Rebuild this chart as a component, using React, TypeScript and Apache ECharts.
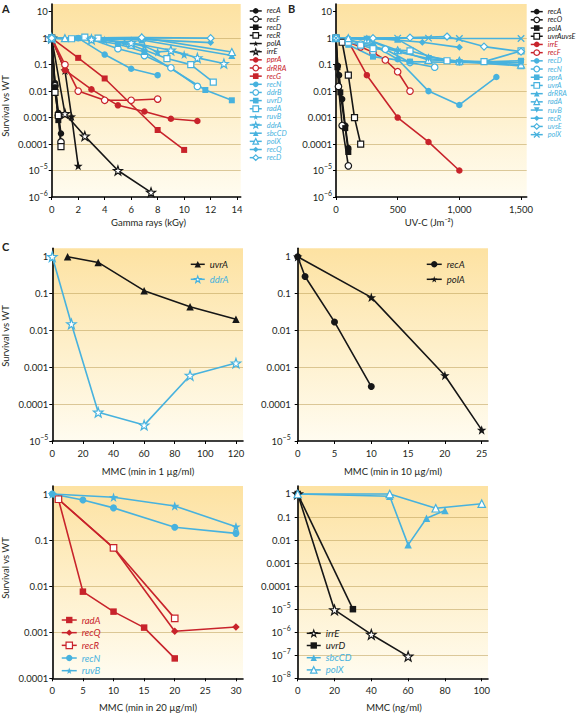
import React, { useEffect, useRef } from 'react';
import * as echarts from 'echarts';

const BLACK = '#161616';
const RED = '#c8232b';
const CYAN = '#47b2de';
const FONT = 'Lato, "Noto Sans", sans-serif';
const TEXT = '#231f20';

// ---------- Panel A: gamma rays (kGy) ----------
const A_recA = [[0, 1], [0.25, 0.02], [0.5, 0.0015], [0.7, 0.00025]];
const A_recF = [[0, 1], [0.25, 0.016], [0.5, 0.0012], [0.7, 0.00012]];
const A_recD = [[0, 1], [0.25, 0.014], [0.5, 0.0008]];
const A_recR = [[0, 1], [0.25, 0.009], [0.5, 0.0012], [0.7, 0.00008]];
const A_polA = [[0, 1], [1, 0.06], [1.5, 0.0011], [2, 0.000015]];
const A_irrE = [[0, 1], [1, 0.0014], [2.5, 0.0002], [5, 0.00001], [7.5, 0.0000015]];
const A_pprA = [[0, 1], [1, 0.062], [3, 0.0116], [5, 0.0029], [7, 0.0017], [9, 0.0009], [11, 0.00074]];
const A_drRRA = [[0, 1], [1, 0.1], [2, 0.01], [4, 0.0045], [6, 0.0045], [8, 0.005]];
const A_recG = [[0, 1], [2, 0.18], [4, 0.03], [8, 0.00034], [10, 0.00006]];
const A_recN = [[0, 1], [2, 1], [4, 0.24], [6, 0.07], [8, 0.04]];
const A_ddrB = [[0, 1], [3, 0.9], [5, 0.4], [7, 0.22], [9, 0.076], [11, 0.015]];
const A_uvrD = [[0, 1], [2, 1], [5, 0.6], [7, 0.3], [11.6, 0.011], [13.6, 0.0045]];
const A_radA = [[0, 1], [1.5, 0.95], [2.5, 1.1], [3.5, 1], [6, 0.55], [8.7, 0.17], [10.5, 0.1], [12.2, 0.022]];
const A_ruvB = [[0, 1], [3, 0.95], [4, 0.85], [5.5, 0.7], [7, 0.5], [8, 0.3], [9, 0.33], [10, 0.24]];
const A_ddrA = [[0, 1], [3, 0.9], [6, 0.67], [9, 0.35], [11, 0.18], [13, 0.11]];
const A_sbcCD = [[0, 1], [1, 1], [6.8, 0.85], [13.6, 0.22]];
const A_polX = [[0, 1], [1, 1], [6.8, 1.05], [13.6, 0.3]];
const A_recQ = [[0, 1], [6.8, 0.9], [12, 0.68]];
const A_recDd = [[0, 1], [6.8, 1.05], [12, 1]];

// ---------- Panel B: UV-C (J/m2) ----------
const B_recA = [[0, 1], [15, 0.09], [25, 0.04], [50, 0.005], [75, 0.0005], [100, 0.00007]];
const B_recO = [[0, 1], [20, 0.015], [50, 0.0005], [100, 0.000015]];
const B_polA = [[0, 1], [12, 0.08], [35, 0.009], [75, 0.0004], [100, 0.00005]];
const B_uvrAuvsE = [[0, 1], [50, 0.7], [100, 0.04], [150, 0.001], [200, 0.0001]];
const B_irrE = [[0, 1], [100, 0.75], [250, 0.04], [500, 0.001], [750, 0.00012], [1000, 0.00001]];
const B_recF = [[0, 1], [100, 0.7], [200, 0.47], [300, 0.29], [400, 0.15], [500, 0.054], [600, 0.01]];
const B_recD = [[0, 1], [100, 0.85], [300, 0.55], [500, 0.16], [750, 0.01], [1000, 0.003], [1300, 0.034]];
const B_recN = [[0, 1], [100, 0.9], [200, 0.6], [400, 0.38], [600, 0.12], [800, 0.08]];
const B_pprA = [[0, 1], [100, 0.56], [300, 0.2], [600, 0.13], [1000, 0.12], [1500, 0.14]];
const B_uvrA = [[0, 1], [100, 0.7], [200, 0.55], [300, 0.4], [600, 0.33], [900, 0.14], [1200, 0.13], [1500, 0.33]];
const B_drRRA = [[0, 1], [100, 1], [250, 0.95], [500, 0.9], [750, 0.2], [1000, 0.13], [1500, 0.09]];
const B_radA = [[0, 1], [100, 1], [250, 0.9], [500, 0.35], [750, 0.15], [1000, 0.14], [1500, 0.1]];
const B_ruvB = [[0, 1], [250, 0.9], [500, 0.3], [750, 0.17], [1000, 0.12], [1500, 0.12]];
const B_recR = [[0, 1], [300, 1], [700, 0.7], [1000, 0.45]];
const B_uvsE = [[0, 1], [300, 1], [600, 1.05], [900, 1.15], [1200, 0.48], [1500, 0.31]];
const B_polX = [[0, 1], [500, 1], [750, 1], [1000, 0.97], [1500, 0.97]];

// ---------- Panel C ----------
const C1_uvrA = [[10, 1], [30, 0.7], [60, 0.12], [90, 0.044], [120, 0.02]];
const C1_ddrA = [[0, 1], [12.5, 0.015], [30, 0.00006], [60, 0.000027], [90, 0.0006], [120, 0.0013]];
const C2_recA = [[0, 1], [1, 0.29], [5, 0.017], [10, 0.0003]];
const C2_polA = [[0, 1], [10, 0.079], [20, 0.0006], [25, 0.00002]];
const C3_radA = [[1, 0.77], [5, 0.0076], [10, 0.0028], [15, 0.00126], [20, 0.00027]];
const C3_recQ = [[1, 0.77], [10, 0.068], [20, 0.00105], [30, 0.0013]];
const C3_recR = [[1, 0.77], [10, 0.068], [20, 0.002]];
const C3_recN = [[0, 1], [5, 0.74], [10, 0.5], [20, 0.19], [30, 0.14]];
const C3_ruvB = [[0, 1], [10, 0.85], [20, 0.55], [30, 0.195]];
const C4_irrE = [[0, 1], [20, 0.0000093], [40, 0.0000008], [60, 0.00000009]];
const C4_uvrD = [[0, 1], [30, 0.00001]];
const C4_sbcCD = [[0, 1], [50, 0.8], [60, 0.0062], [70, 0.088], [80, 0.19]];
const C4_polX = [[0, 1], [50, 1], [75, 0.24], [100, 0.38]];

// tick values
const X_A = [0, 2, 4, 6, 8, 10, 12, 14];
const X_B = [0, 500, 1000, 1500];
const X_C1 = [0, 20, 40, 60, 80, 100, 120];
const X_C2 = [0, 5, 10, 15, 20, 25];
const X_C3 = [0, 5, 10, 15, 20, 25, 30];
const X_C4 = [0, 20, 40, 60, 80, 100];

const SYM: Record<string, string> = {
  circle: 'circle',
  rect: 'rect',
  triangle: 'triangle',
  diamond: 'diamond',
  star: 'path://M0,-5L1.18,-1.62L4.76,-1.55L1.9,0.62L2.94,4.05L0,2L-2.94,4.05L-1.9,0.62L-4.76,-1.55L-1.18,-1.62Z',
  cross: 'path://M-4,-4L4,4M4,-4L-4,4',
};

type Spec = [string, string, string, boolean, number[][], number?];

const SPEC_A: Spec[] = [
  ['recA', BLACK, 'circle', true, A_recA],
  ['recF', BLACK, 'circle', false, A_recF],
  ['recD', BLACK, 'rect', true, A_recD],
  ['recR', BLACK, 'rect', false, A_recR],
  ['polA', BLACK, 'star', true, A_polA],
  ['irrE', BLACK, 'star', false, A_irrE],
  ['pprA', RED, 'circle', true, A_pprA],
  ['drRRA', RED, 'circle', false, A_drRRA],
  ['recG', RED, 'rect', true, A_recG],
  ['recN', CYAN, 'circle', true, A_recN],
  ['ddrB', CYAN, 'circle', false, A_ddrB],
  ['uvrD', CYAN, 'rect', true, A_uvrD],
  ['radA', CYAN, 'rect', false, A_radA],
  ['ruvB', CYAN, 'star', true, A_ruvB],
  ['ddrA', CYAN, 'star', false, A_ddrA],
  ['sbcCD', CYAN, 'triangle', true, A_sbcCD],
  ['polX', CYAN, 'triangle', false, A_polX],
  ['recQ', CYAN, 'diamond', true, A_recQ],
  ['recD ', CYAN, 'diamond', false, A_recDd],
];

const SPEC_B: Spec[] = [
  ['recA', BLACK, 'circle', true, B_recA],
  ['recO', BLACK, 'circle', false, B_recO],
  ['polA', BLACK, 'rect', true, B_polA],
  ['uvrAuvsE', BLACK, 'rect', false, B_uvrAuvsE],
  ['irrE', RED, 'circle', true, B_irrE],
  ['recF', RED, 'circle', false, B_recF],
  ['recD', CYAN, 'circle', true, B_recD],
  ['recN', CYAN, 'circle', false, B_recN],
  ['pprA', CYAN, 'rect', true, B_pprA],
  ['uvrA', CYAN, 'rect', false, B_uvrA],
  ['drRRA', CYAN, 'triangle', true, B_drRRA],
  ['radA', CYAN, 'triangle', false, B_radA],
  ['ruvB', CYAN, 'triangle', true, B_ruvB, 180],
  ['recR', CYAN, 'diamond', true, B_recR],
  ['uvsE', CYAN, 'diamond', false, B_uvsE],
  ['polX', CYAN, 'cross', true, B_polX],
];

const SPEC_C1: Spec[] = [
  ['uvrA', BLACK, 'triangle', true, C1_uvrA],
  ['ddrA', CYAN, 'star', false, C1_ddrA],
];
const SPEC_C2: Spec[] = [
  ['recA', BLACK, 'circle', true, C2_recA],
  ['polA', BLACK, 'star', true, C2_polA],
];
const SPEC_C3: Spec[] = [
  ['radA', RED, 'rect', true, C3_radA],
  ['recQ', RED, 'diamond', true, C3_recQ],
  ['recR', RED, 'rect', false, C3_recR],
  ['recN', CYAN, 'circle', true, C3_recN],
  ['ruvB', CYAN, 'star', true, C3_ruvB],
];
const SPEC_C4: Spec[] = [
  ['irrE', BLACK, 'star', false, C4_irrE],
  ['uvrD', BLACK, 'rect', true, C4_uvrD],
  ['sbcCD', CYAN, 'triangle', true, C4_sbcCD],
  ['polX', CYAN, 'triangle', false, C4_polX],
];

function symStyle(color: string, symbol: string, filled: boolean) {
  return {
    color: filled ? color : '#ffffff',
    borderColor: color,
    borderWidth: filled ? (symbol === 'cross' ? 1.3 : 0) : 1.2,
    opacity: 1,
  };
}

function makeSeries(panel: string, idx: number, specs: Spec[], size: number) {
  return specs.map(([name, color, symbol, filled, data, rot]) => {
    let s = size;
    if (symbol === 'star') s = size + 2.5;
    else if (symbol === 'rect') s = size - 0.5;
    else if (symbol === 'diamond' || symbol === 'triangle') s = size + 0.5;
    return {
      name: panel + '|' + name,
      type: 'line',
      xAxisIndex: idx,
      yAxisIndex: idx,
      data: data.map(([x, y]) => [x, Math.log10(y)]),
      symbol: SYM[symbol],
      symbolSize: s,
      symbolRotate: rot || 0,
      showSymbol: true,
      clip: false,
      silent: true,
      lineStyle: { color, width: 1.6 },
      itemStyle: symStyle(color, symbol, filled),
      emphasis: { disabled: true },
    };
  });
}

function makeLegend(panel: string, specs: Spec[], left: number, top: number, fontSize: number, itemWidth: number, itemHeight: number, lineHeight: number, gap: number) {
  return {
    show: true,
    orient: 'vertical',
    left,
    top,
    padding: 0,
    itemGap: gap,
    itemWidth,
    itemHeight,
    selectedMode: false,
    data: specs.map((s) => ({
      name: panel + '|' + s[0],
      textStyle: { color: s[1] },
      itemStyle: symStyle(s[1], s[2], s[3]),
      lineStyle: { color: s[1], width: 1.5 },
    })),
    formatter: (n: string) => n.split('|')[1].trim(),
    textStyle: { fontSize, fontStyle: 'italic', fontFamily: FONT, lineHeight },
  };
}

const supRich = {
  b: { fontSize: 9.5, lineHeight: 16, fontFamily: FONT, color: TEXT },
  sup: { fontSize: 7, lineHeight: 8, verticalAlign: 'top', fontFamily: FONT, color: TEXT },
};

function yFmt(v: number) {
  const e = Math.round(v);
  if (Math.abs(v - e) > 1e-6) return '';
  if (e >= 1) return String(Math.pow(10, e));
  if (e === 0) return '1';
  if (e >= -4) return Math.pow(10, e).toFixed(-e);
  return '{b|10}{sup|\u2212' + -e + '}';
}

function range(a: number, b: number) {
  const r: number[] = [];
  for (let i = a; i <= b; i++) r.push(i);
  return r;
}

function yAxis(idx: number, min: number, max: number, margin: number) {
  const ticks = range(min, Math.floor(max));
  return {
    type: 'value',
    gridIndex: idx,
    min,
    max,
    interval: 1,
    axisLine: { show: true, onZero: false, lineStyle: { color: '#000', width: 1.6 } },
    axisTick: { show: true, length: 3, customValues: ticks, lineStyle: { color: '#000', width: 1 } },
    axisLabel: {
      customValues: ticks,
      formatter: yFmt,
      fontSize: 9.5,
      fontFamily: FONT,
      color: TEXT,
      margin,
      rich: supRich,
    },
    splitLine: {
      show: true,
      showMinLine: false,
      showMaxLine: false,
      lineStyle: { color: 'rgba(190,160,90,0.55)', width: 1 },
    },
  };
}

function xAxis(idx: number, max: number, interval: number, ticks: number[], comma?: boolean) {
  return {
    type: 'value',
    gridIndex: idx,
    min: 0,
    max,
    interval,
    axisLine: { show: true, onZero: false, lineStyle: { color: '#000', width: 1.6 } },
    axisTick: { show: true, length: 3, customValues: ticks, lineStyle: { color: '#000', width: 1 } },
    axisLabel: {
      customValues: ticks,
      fontSize: 9.5,
      fontFamily: FONT,
      color: TEXT,
      margin: 7,
      formatter: (v: number) => {
        if (ticks.indexOf(v) < 0) return '';
        return comma ? v.toLocaleString('en-US') : String(v);
      },
    },
    splitLine: { show: false },
  };
}

const BG = {
  type: 'linear',
  x: 0,
  y: 0,
  x2: 0,
  y2: 1,
  colorStops: [
    { offset: 0, color: '#fde2a2' },
    { offset: 1, color: '#fffcf0' },
  ],
};

function grid(left: number, top: number, width: number, height: number) {
  return { left, top, width, height, show: true, borderWidth: 0, backgroundColor: BG, containLabel: false };
}

function txt(x: number, y: number, text: string, opts: any = {}) {
  return {
    type: 'text',
    x,
    y,
    rotation: opts.rotation || 0,
    style: {
      text,
      fill: TEXT,
      font: (opts.bold ? 'bold ' : '') + (opts.size || 9.5) + 'px ' + FONT,
      textAlign: opts.align || 'center',
      textVerticalAlign: 'middle',
    },
  };
}

export default function App() {
  const ref = useRef<HTMLDivElement>(null);
  useEffect(() => {
    if (!ref.current) return;
    const chart = echarts.init(ref.current, undefined, { renderer: 'svg' });
    const option = {
      animation: false,
      backgroundColor: '#ffffff',
      grid: [
        grid(51.7, 4, 189, 193),
        grid(336, 4, 190.7, 193),
        grid(52.3, 248.3, 190.7, 192.7),
        grid(297.7, 248.3, 190.3, 192.7),
        grid(52.3, 486, 190.7, 192.3),
        grid(297.7, 486, 190.3, 192.3),
      ],
      xAxis: [
        xAxis(0, 14.27, 2, X_A),
        xAxis(1, 1546, 500, X_B, true),
        xAxis(2, 124.6, 20, X_C1),
        xAxis(3, 25.86, 5, X_C2),
        xAxis(4, 31.15, 5, X_C3),
        xAxis(5, 103.4, 20, X_C4),
      ],
      yAxis: [
        yAxis(0, -6, 1.29, 4),
        yAxis(1, -6, 1.29, 4),
        yAxis(2, -5, 0.228, 4),
        yAxis(3, -5, 0.228, 7),
        yAxis(4, -4, 0.174, 4),
        yAxis(5, -8, 0.347, 7),
      ],
      legend: [
        makeLegend('A', SPEC_A, 249, 7.2, 7.4, 12, 7, 7.5, 0.65),
        makeLegend('B', SPEC_B, 530, 7.9, 7.2, 12, 7, 7.5, 0.7),
        makeLegend('C1', SPEC_C1, 190, 259.3, 9.5, 14, 8, 10, 5),
        makeLegend('C2', SPEC_C2, 426, 259.3, 9.5, 15, 8, 10, 5),
        makeLegend('C3', SPEC_C3, 61, 615, 9.5, 15, 8, 10, 2.67),
        makeLegend('C4', SPEC_C4, 306, 628.3, 9.5, 14, 8, 10, 2.2),
      ],
      series: [
        ...makeSeries('A', 0, SPEC_A, 6.5),
        ...makeSeries('B', 1, SPEC_B, 6.5),
        ...makeSeries('C1', 2, SPEC_C1, 7),
        ...makeSeries('C2', 3, SPEC_C2, 7),
        ...makeSeries('C3', 4, SPEC_C3, 7),
        ...makeSeries('C4', 5, SPEC_C4, 7),
      ],
      graphic: [
        txt(2, 8, 'A', { bold: true, size: 11, align: 'left' }),
        txt(288, 8, 'B', { bold: true, size: 11, align: 'left' }),
        txt(2, 246, 'C', { bold: true, size: 11, align: 'left' }),
        txt(148.5, 222.5, 'Gamma rays (kGy)'),
        txt(429, 222.5, 'UV-C (Jm\u207B\u00B2)'),
        txt(148, 471.5, 'MMC (min in 1 \u00B5g/ml)'),
        txt(393, 471.5, 'MMC (min in 10 \u00B5g/ml)'),
        txt(148, 707, 'MMC (min in 20 \u00B5g/ml)'),
        txt(394, 707, 'MMC (ng/ml)'),
        txt(5, 106, 'Survival vs WT', { rotation: Math.PI / 2 }),
        txt(5, 336, 'Survival vs WT', { rotation: Math.PI / 2 }),
        txt(5, 568, 'Survival vs WT', { rotation: Math.PI / 2 }),
      ],
    };
    chart.setOption(option as any);
    return () => chart.dispose();
  }, []);
  return (
    <div
      ref={ref}
      style={{ position: 'fixed', left: 0, top: 0, width: 576, height: 713, background: '#fff' }}
    />
  );
}
